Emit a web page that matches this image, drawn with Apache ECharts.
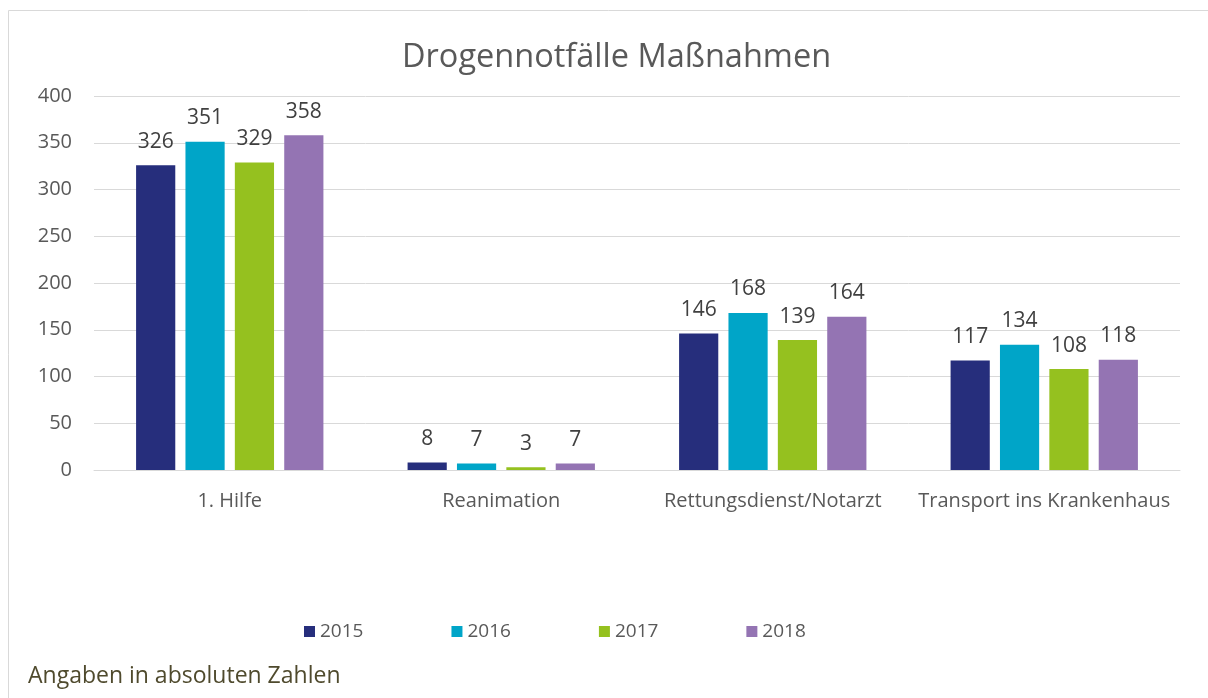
<!DOCTYPE html>
<html><head><meta charset="utf-8">
<style>html,body{margin:0;padding:0;background:#fff}#c{width:1208px;height:698px}</style>
<script src="https://cdn.jsdelivr.net/npm/echarts@6/dist/echarts.min.js"></script>
</head><body><div id="c"></div>
<script>
const categories = ['1. Hilfe', 'Reanimation', 'Rettungsdienst/Notarzt', 'Transport ins Krankenhaus'];
const years = ['2015', '2016', '2017', '2018'];
const v2015 = [326, 8, 146, 117];
const v2016 = [351, 7, 168, 134];
const v2017 = [329, 3, 139, 108];
const v2018 = [358, 7, 164, 118];
const yTicks = [0, 50, 100, 150, 200, 250, 300, 350, 400];
const colors = ['#262e7c', '#00a5c8', '#95c11f', '#9474b3'];
const values = [v2015, v2016, v2017, v2018];
const font = '"Open Sans", "Noto Sans", sans-serif';

const chart = echarts.init(document.getElementById('c'));
chart.setOption({
  animation: false,
  textStyle: { fontFamily: font },
  graphic: [
    { type: 'rect', shape: { x: 8.5, y: 10.5, width: 1210, height: 700 },
      style: { fill: 'none', stroke: '#d9d9d9', lineWidth: 1 } },
    { type: 'text', left: 28, top: 665,
      style: { text: 'Angaben in absoluten Zahlen', fill: '#4f4a2d', font: '23px ' + font } }
  ],
  title: { text: 'Drogennotfälle Maßnahmen', left: 397, top: 36,
    textStyle: { fontFamily: font, fontSize: 32.5, fontWeight: 'normal', color: '#595959' } },
  legend: { top: 617, left: 299, itemWidth: 11, itemHeight: 11, itemGap: 88,
    icon: 'rect', data: years,
    textStyle: { fontFamily: font, fontSize: 19, color: '#595959' } },
  grid: { left: 94, right: 28, top: 96, bottom: 228 },
  xAxis: { type: 'category', data: categories,
    axisLine: { lineStyle: { color: '#d9d9d9', width: 1 } }, axisTick: { show: false },
    axisLabel: { color: '#595959', fontSize: 20, margin: 21, interval: 0, fontFamily: font } },
  yAxis: { type: 'value', min: 0, max: 400, interval: 50,
    axisLabel: { color: '#595959', fontSize: 20, margin: 22, fontFamily: font,
      formatter: v => yTicks.includes(v) ? String(v) : '' },
    splitLine: { lineStyle: { color: '#d9d9d9' } },
    axisLine: { show: false }, axisTick: { show: false } },
  series: years.map((y, i) => ({
    name: y, type: 'bar', data: values[i], barGap: '26%', barCategoryGap: '31%',
    itemStyle: { color: colors[i] },
    label: { show: true, position: 'top', distance: 13, color: '#404040', fontSize: 21, fontFamily: font }
  }))
});
</script></body></html>
